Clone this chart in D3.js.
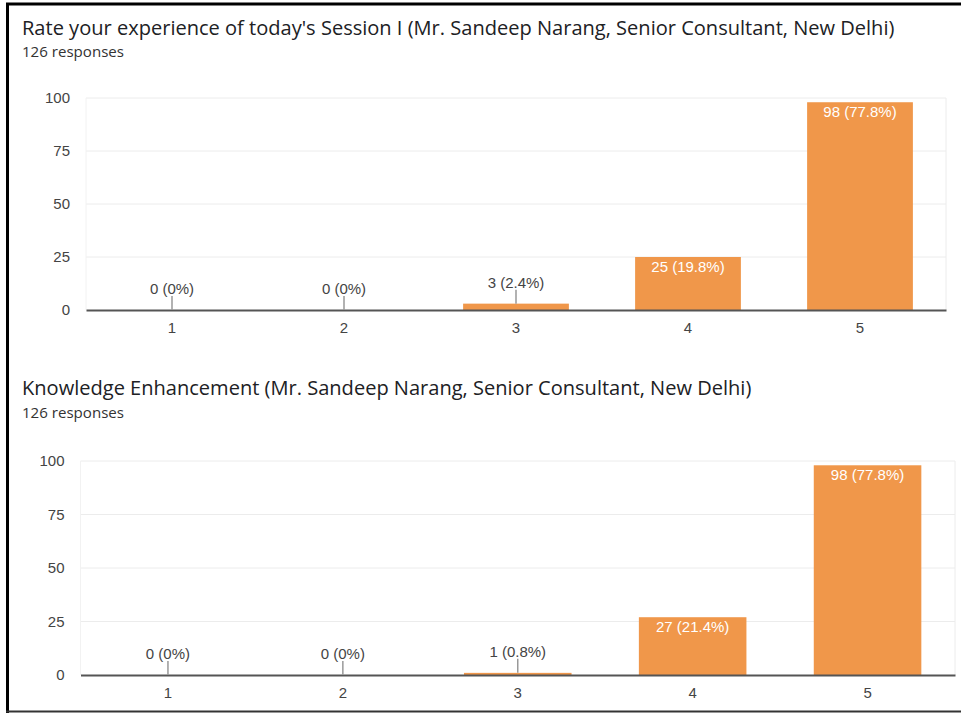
<!DOCTYPE html>
<html><head><meta charset="utf-8">
<script src="https://cdn.jsdelivr.net/npm/d3@7"></script>
<style>body{margin:0;background:#fff}svg{display:block}</style>
</head><body>
<svg id="c" width="961" height="713"></svg>
<script>
const categories = ["1","2","3","4","5"];
const titles = [
  "Rate your experience of today's Session I (Mr. Sandeep Narang, Senior Consultant, New Delhi)",
  "Knowledge Enhancement (Mr. Sandeep Narang, Senior Consultant, New Delhi)"
];
const subtitle = "126 responses";
const session1Values = [0, 0, 3, 25, 98];
const session1Labels = ["0 (0%)", "0 (0%)", "3 (2.4%)", "25 (19.8%)", "98 (77.8%)"];
const knowledgeValues = [0, 0, 1, 27, 98];
const knowledgeLabels = ["0 (0%)", "0 (0%)", "1 (0.8%)", "27 (21.4%)", "98 (77.8%)"];
const yTicks = [0, 25, 50, 75, 100];

const svg = d3.select("#c");
const BAR = "#f0974a";

const panels = [
  {title: titles[0], values: session1Values, labels: session1Labels, titleY: 35, subY: 57, x0: 86, x1: 946, y0: 310, y1: 98},
  {title: titles[1], values: knowledgeValues, labels: knowledgeLabels, titleY: 395, subY: 418, x0: 80.5, x1: 955, y0: 675, y1: 461}
];

panels.forEach((p, pi) => {
  const g = svg.append("g");
  const t = g.append("text").attr("x", 22).attr("y", p.titleY)
    .attr("font-family", "'Open Sans', Roboto, sans-serif").attr("font-size", 19)
    .attr("fill", "#202124").text(p.title);
  if (pi === 0) {
    const w = t.node().getComputedTextLength();
    const fs = 19 * 873 / w;
    t.attr("font-size", fs);
    panels.forEach(q => q.fs = fs);
  } else {
    t.attr("font-size", panels[0].fs);
  }
  const s = g.append("text").attr("x", 22).attr("y", p.subY)
    .attr("font-family", "'Open Sans', sans-serif").attr("font-size", 14)
    .attr("font-weight", 500)
    .attr("fill", "#333").text(subtitle);
  const sw = s.node().getComputedTextLength();
  s.attr("font-size", 14 * 102 / sw);

  const x = d3.scaleBand().domain(categories).range([p.x0, p.x1]).paddingInner(0.385).paddingOuter(0.1925);
  const y = d3.scaleLinear().domain([0, 100]).range([p.y0, p.y1]);

  g.append("g").selectAll("line").data(yTicks.filter(t => t > 0)).join("line")
    .attr("x1", p.x0).attr("x2", p.x1).attr("y1", d => y(d)).attr("y2", d => y(d))
    .attr("stroke", "#ececec").attr("stroke-width", 1);
  g.append("line").attr("x1", p.x1).attr("x2", p.x1).attr("y1", y(100)).attr("y2", y(0))
    .attr("stroke", "#ececec");
  g.append("line").attr("x1", p.x0).attr("x2", p.x0).attr("y1", y(100)).attr("y2", y(0))
    .attr("stroke", "#f2f2f2");

  const ya = g.append("g").attr("transform", `translate(${p.x0},0)`)
    .call(d3.axisLeft(y).tickValues(yTicks).tickSize(0).tickPadding(16));
  ya.select(".domain").remove();
  ya.selectAll("text").attr("font-family", "Liberation Sans, Arial, sans-serif")
    .attr("font-size", 15).attr("fill", "#444");

  g.append("g").selectAll("rect").data(p.values).join("rect")
    .attr("x", (d, i) => x(categories[i])).attr("width", x.bandwidth())
    .attr("y", d => y(d)).attr("height", d => y(0) - y(d)).attr("fill", BAR);

  const xa = g.append("g").attr("transform", `translate(0,${p.y0})`)
    .call(d3.axisBottom(x).tickSize(0).tickPadding(12).tickSizeOuter(0));
  xa.select(".domain").attr("stroke", "#555").attr("stroke-width", 1.8);
  xa.selectAll("text").attr("font-family", "Liberation Sans, Arial, sans-serif")
    .attr("font-size", 15).attr("fill", "#444");

  p.values.forEach((v, i) => {
    const cx = x(categories[i]) + x.bandwidth() / 2;
    const inside = (y(0) - y(v)) > 30;
    if (inside) {
      g.append("text").attr("x", cx).attr("y", y(v) + 15).attr("text-anchor", "middle")
        .attr("font-family", "Liberation Sans, Arial, sans-serif").attr("font-size", 15)
        .attr("fill", "#fff").text(p.labels[i]);
    } else {
      g.append("line").attr("x1", cx).attr("x2", cx).attr("y1", y(v) - 14).attr("y2", y(v))
        .attr("stroke", "#999").attr("stroke-width", 1.5);
      g.append("text").attr("x", cx).attr("y", y(v) - 16).attr("text-anchor", "middle")
        .attr("font-family", "Liberation Sans, Arial, sans-serif").attr("font-size", 15)
        .attr("fill", "#444").text(p.labels[i]);
    }
  });
});

svg.append("line").attr("x1", 7.5).attr("x2", 7.5).attr("y1", 3).attr("y2", 713).attr("stroke", "#000").attr("stroke-width", 3);
svg.append("line").attr("x1", 6).attr("x2", 961).attr("y1", 4).attr("y2", 4).attr("stroke", "#000").attr("stroke-width", 3);
svg.append("line").attr("x1", 6).attr("x2", 961).attr("y1", 711.5).attr("y2", 711.5).attr("stroke", "#333").attr("stroke-width", 2);
</script>
</body></html>
